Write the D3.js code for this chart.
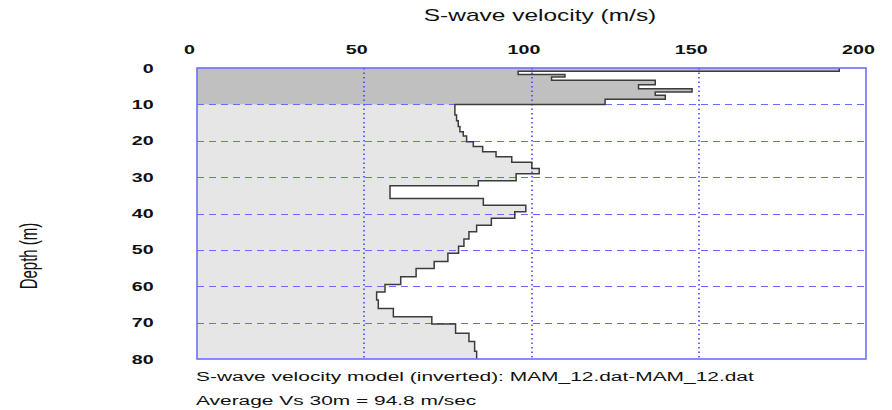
<!DOCTYPE html>
<html>
<head>
<meta charset="utf-8">
<script src="https://cdn.jsdelivr.net/npm/d3@7"></script>
<style>
  body { margin: 0; background: #fff; }
  svg { display: block; }
</style>
</head>
<body>
<script>
// layer model: bottom depth (m) and Vs (m/s) of each layer
const layerBottom = [0.9, 1.8, 2.5, 3.4, 4.6, 5.7, 6.6, 7.5, 8.6, 10.0,
    12.9, 14.5, 16.1, 17.5, 18.7, 20.3, 21.6, 23.0, 24.4, 25.9,
    27.6, 29.1, 31.0, 32.4, 35.9, 37.7, 39.5, 41.3, 43.2, 45.0,
    47.0, 49.0, 50.9, 53.2, 55.1, 57.4, 59.5, 61.6, 63.8, 66.1,
    68.4, 70.4, 72.9, 75.2, 77.9, 80.0];
const vsValues = [192, 96, 110, 106, 137, 132, 148, 137, 140, 122,
    77.1, 77.6, 78.1, 78.6, 79.6, 80.6, 82.6, 85.4, 89.4, 94.1,
    100.1, 102.3, 95.4, 84.1, 57.7, 85.6, 98.3, 95.0, 88.0, 83.6,
    81.3, 79.8, 78.2, 75.0, 70.9, 65.5, 60.9, 56.2, 53.7, 54.2,
    58.7, 70.2, 77.3, 81.3, 83.0, 83.6];
const shallowDepth = 10;
const xTicks = [0, 50, 100, 150, 200];
const yTicks = [0, 10, 20, 30, 40, 50, 60, 70, 80];
const xGrid = [50, 100, 150];
const yGrid = [10, 20, 30, 40, 50, 60, 70];
const titleText = "S-wave velocity (m/s)";
const yLabel = "Depth (m)";
const noteLines = ["S-wave velocity model (inverted): MAM_12.dat-MAM_12.dat",
    "Average Vs 30m = 94.8 m/sec"];

let width = 892;
let height = 410;
let stretch = 1.55; // the picture is wider than it is tall, text too
let font = "Arial, 'Liberation Sans', sans-serif";

let svg = d3.select("body").append("svg")
    .attr("width", width)
    .attr("height", height);

let x = d3.scaleLinear().domain([0, 200]).range([197, 866]);
let y = d3.scaleLinear().domain([0, 80]).range([68, 359]);

let layers = layerBottom.map((b, i) => ({
    top: i === 0 ? 0 : layerBottom[i - 1],
    bottom: b,
    vs: vsValues[i]
}));

// step points of the profile
const stepPoints = function (list) {
    let pts = [];
    list.forEach(d => {
        pts.push([d.vs, d.top]);
        pts.push([d.vs, d.bottom]);
    });
    return pts;
};

let area = d3.area()
    .x0(x(0))
    .x1(d => x(d[0]))
    .y(d => y(d[1]));

// fill left of the profile, darker for the top 10 m
svg.append("path")
    .attr("d", area(stepPoints(layers.filter(d => d.bottom > shallowDepth))))
    .style("fill", "#e6e6e6");
svg.append("path")
    .attr("d", area(stepPoints(layers.filter(d => d.bottom <= shallowDepth))))
    .style("fill", "#c0c0c0");

// grid
svg.append("g").selectAll("line")
    .data(xGrid)
    .enter()
    .append("line")
    .attr("x1", d => Math.round(x(d))).attr("x2", d => Math.round(x(d)))
    .attr("y1", y(0)).attr("y2", y(80))
    .style("stroke", "#3a3aff")
    .style("stroke-width", 1.5)
    .style("stroke-dasharray", "1.5,3");

svg.append("g").selectAll("line")
    .data(yGrid)
    .enter()
    .append("line")
    .attr("x1", x(0)).attr("x2", x(200))
    .attr("y1", d => Math.round(y(d)) + 0.5).attr("y2", d => Math.round(y(d)) + 0.5)
    .style("stroke", "#6a6aff")
    .style("stroke-width", 1)
    .style("stroke-dasharray", "7,5");

// profile
let line = d3.line().x(d => x(d[0])).y(d => y(d[1]));
svg.append("path")
    .attr("d", line(stepPoints(layers)))
    .style("fill", "none")
    .style("stroke", "#3c3c3c")
    .style("stroke-width", 1.5);

// frame
svg.append("rect")
    .attr("x", x(0)).attr("y", y(0))
    .attr("width", x(200) - x(0))
    .attr("height", y(80) - y(0))
    .style("fill", "none")
    .style("stroke", "#6e6eff")
    .style("stroke-width", 1.6);

// axes
let xAxis = svg.append("g")
    .attr("transform", `translate(-8,${y(0)})`)
    .call(d3.axisTop(x).tickValues(xTicks).tickSize(0).tickPadding(14));
let yAxis = svg.append("g")
    .attr("transform", `translate(${x(0)},0)`)
    .call(d3.axisLeft(y).tickValues(yTicks).tickSize(0).tickPadding(28));
[xAxis, yAxis].forEach(a => {
    a.select(".domain").remove();
    a.selectAll("text")
        .attr("transform", `scale(${stretch},1)`)
        .style("font-family", font)
        .style("font-size", "12.7px")
        .style("font-weight", "bold")
        .style("fill", "#111");
});

// titles
svg.append("text")
    .attr("transform", `translate(540,21) scale(${stretch},1)`)
    .attr("text-anchor", "middle")
    .style("font-family", font)
    .style("font-size", "15.8px")
    .style("fill", "#111")
    .text(titleText);

svg.append("text")
    .attr("transform", `translate(37,256) scale(${stretch},1) rotate(-90)`)
    .attr("text-anchor", "middle")
    .style("font-family", font)
    .style("font-size", "15px")
    .style("fill", "#111")
    .text(yLabel);

svg.append("g").selectAll("text")
    .data(noteLines)
    .enter()
    .append("text")
    .attr("transform", (d, i) => `translate(196,${381 + i * 24}) scale(${stretch},1)`)
    .style("font-family", font)
    .style("font-size", "13.5px")
    .style("fill", "#111")
    .text(d => d);
</script>
</body>
</html>
